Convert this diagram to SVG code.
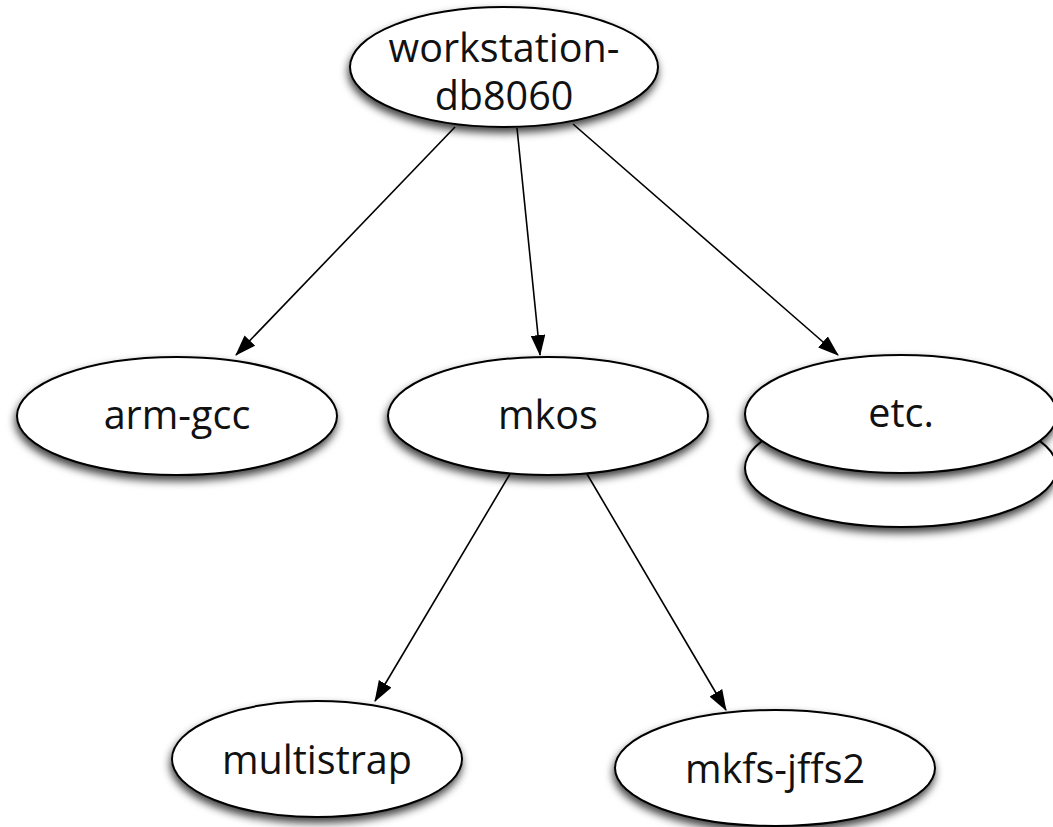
<svg xmlns="http://www.w3.org/2000/svg" width="1053" height="827" viewBox="0 0 1053 827">
<style>
.n ellipse{fill:#fff;stroke:#000;stroke-width:2;filter:url(#sh)}
.n text{font-family:"Open Sans","Noto Sans",sans-serif;font-size:39.5px;fill:#111;text-anchor:middle}
.e line{stroke:#000;stroke-width:1.6;marker-end:url(#ah)}
</style>
<defs>
<filter id="sh" x="-20%" y="-20%" width="140%" height="150%">
<feDropShadow dx="-1" dy="5" stdDeviation="4" flood-color="#000" flood-opacity="0.75"/>
</filter>
<marker id="ah" viewBox="0 0 20 14" refX="19" refY="7" markerWidth="21" markerHeight="15" markerUnits="userSpaceOnUse" orient="auto">
<path d="M0,0 L20,7 L0,14 Z" fill="#000"/>
</marker>
</defs>
<g class="e">
<line x1="455" y1="127" x2="236" y2="355"/>
<line x1="517" y1="128" x2="540" y2="355"/>
<line x1="573" y1="124" x2="838" y2="355"/>
<line x1="510" y1="474" x2="375" y2="701"/>
<line x1="587" y1="474" x2="726" y2="710"/>
</g>
<g id="workstation" class="n">
<ellipse cx="504" cy="67" rx="154" ry="60"/>
<text x="504" y="62">workstation-<tspan x="504" y="110">db8060</tspan></text>
</g>
<g id="arm-gcc" class="n">
<ellipse cx="177" cy="416" rx="160" ry="59"/>
<text x="177" y="429">arm-gcc</text>
</g>
<g id="mkos" class="n">
<ellipse cx="548" cy="416" rx="160" ry="59"/>
<text x="548" y="429">mkos</text>
</g>
<g id="etc" class="n">
<ellipse cx="901" cy="468" rx="156" ry="59"/>
<ellipse cx="901" cy="414" rx="156" ry="59"/>
<text x="901" y="427">etc.</text>
</g>
<g id="multistrap" class="n">
<ellipse cx="317" cy="759" rx="145" ry="58"/>
<text x="317" y="774">multistrap</text>
</g>
<g id="mkfs-jffs2" class="n">
<ellipse cx="775" cy="768" rx="160" ry="58"/>
<text x="775" y="783">mkfs-jffs2</text>
</g>
</svg>
